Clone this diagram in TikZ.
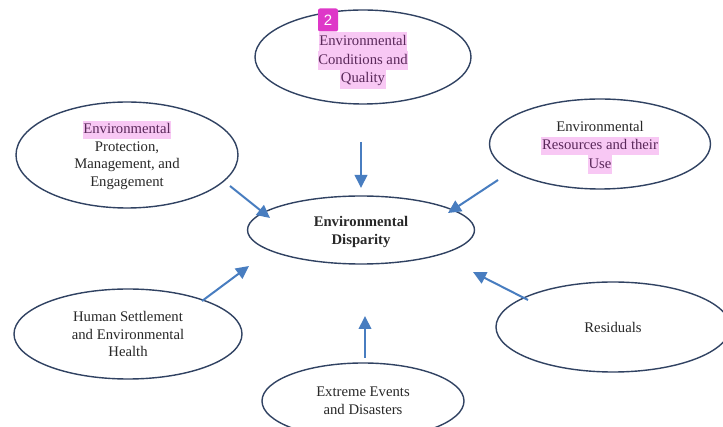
\documentclass[tikz,border=0pt]{standalone}
\usepackage{fontspec}
\setmainfont{Liberation Serif}
\setsansfont{Liberation Sans}
\usetikzlibrary{shapes.geometric,arrows.meta}
\definecolor{edgecol}{RGB}{48,66,98}
\definecolor{arrcol}{RGB}{72,125,192}
\definecolor{hlbg}{RGB}{248,200,244}
\definecolor{hltext}{RGB}{90,40,90}
\definecolor{txt}{RGB}{40,40,40}
\definecolor{badge}{RGB}{222,56,200}
\newcommand{\hl}[1]{{\setlength{\fboxsep}{0.6pt}\colorbox{hlbg}{\textcolor{hltext}{\strut #1}}}}
\tikzset{
  oval/.style={ellipse, draw=edgecol, line width=1.4pt, inner sep=0pt,
    text=txt, font=\fontsize{14.7}{17.6}\selectfont, align=center},
  ovaltext/.style={inner sep=0pt, text=txt, font=\fontsize{14.7}{17.6}\selectfont, align=center},
  flow/.style={draw=arrcol, line width=2pt, -{Triangle[length=13pt,width=12.5pt]}},
}
\begin{document}
\begin{tikzpicture}[x=1pt,y=-1pt]
\useasboundingbox (0,0) rectangle (723,427);
\clip (0,0) rectangle (723,427);
\fill[white] (0,0) rectangle (723,427);

\node[oval, minimum width=216pt, minimum height=94pt] (top) at (363,57) {};
\node[ovaltext] (topt) at ([yshift=-3.5pt]top.center)
  {\hl{Environmental}\\[-1pt]\hl{Conditions and}\\[-1pt]\hl{Quality}};
\node[fill=badge, rounded corners=2pt, minimum width=20pt, minimum height=23pt,
  inner sep=0pt, text=white, font=\sffamily\fontsize{15}{15}\selectfont] (badge) at (328,20) {2};

\node[oval, minimum width=222pt, minimum height=106pt] (prot) at (127,155)
  {\hl{Environmental}\\Protection,\\Management, and\\Engagement};

\node[oval, minimum width=221pt, minimum height=90pt] (res) at (600,144) {};
\node[ovaltext] (rest) at ([yshift=-4pt]res.center)
  {Environmental\\\hl{Resources and their}\\[-1pt]\hl{Use}};

\node[oval, minimum width=227pt, minimum height=68pt] (disp) at (361,230) {};
\node[ovaltext, font=\bfseries\fontsize{14.7}{18}\selectfont] (dispt) at ([yshift=-2pt]disp.center)
  {Environmental\\Disparity};

\node[oval, minimum width=228pt, minimum height=90pt] (hum) at (128,334)
  {Human Settlement\\and Environmental\\Health};

\node[oval, minimum width=202pt, minimum height=76pt] (ext) at (363,401)
  {Extreme Events\\and Disasters};

\node[oval, minimum width=234pt, minimum height=90pt] (resid) at (613,327)
  {Residuals};

\coordinate (a1s) at (361,142); \coordinate (a1e) at (361,188);
\coordinate (a2s) at (230,186); \coordinate (a2e) at (270,218);
\coordinate (a3s) at (498,180); \coordinate (a3e) at (448,213);
\coordinate (a4s) at (202,301); \coordinate (a4e) at (249,266);
\coordinate (a5s) at (365,358); \coordinate (a5e) at (365,316);
\coordinate (a6s) at (528,300); \coordinate (a6e) at (473,272);

\draw[flow] (a1s) -- (a1e);
\draw[flow] (a2s) -- (a2e);
\draw[flow] (a3s) -- (a3e);
\draw[flow] (a4s) -- (a4e);
\draw[flow] (a5s) -- (a5e);
\draw[flow] (a6s) -- (a6e);
\end{tikzpicture}
\end{document}
